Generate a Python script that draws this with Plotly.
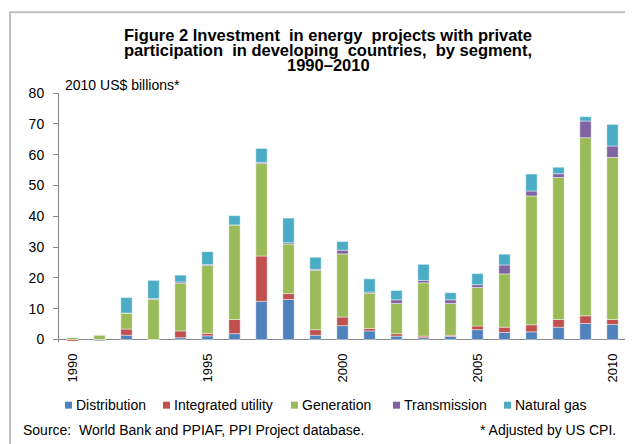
import plotly.graph_objects as go

years = list(range(1990, 2011))
distribution = [0, -0.4, 1.4, 0, 0.6, 1.2, 1.9, 12.4, 13.0, 1.4, 4.5, 2.8, 1.1, 0.6, 1.0, 3.2, 2.3, 2.5, 4.0, 5.2, 4.9]
integrated_utility = [-0.5, 0, 2.0, 0, 2.2, 0.8, 4.6, 14.7, 1.9, 1.8, 2.8, 0.8, 0.8, 0.5, 0.4, 1.2, 1.7, 2.3, 2.5, 2.5, 1.6]
generation = [0.7, 1.5, 5.2, 13.0, 15.5, 22.0, 30.7, 30.0, 16.1, 19.2, 20.5, 11.4, 9.8, 17.3, 10.3, 12.5, 17.3, 41.8, 46.1, 57.8, 52.6]
transmission = [0, 0, 0, 0.3, 0.4, 0.3, 0, 0.4, 0.4, 0.4, 1.2, 0.4, 1.2, 0.8, 1.2, 0.9, 2.9, 1.6, 1.2, 5.4, 3.7]
natural_gas = [0, 0, 5.0, 5.9, 2.2, 4.2, 3.0, 4.5, 8.0, 3.9, 2.8, 4.3, 3.0, 5.2, 2.3, 3.6, 3.5, 5.5, 2.1, 1.4, 7.0]

series_names = ["Distribution", "Integrated utility", "Generation", "Transmission", "Natural gas"]
series_values = [distribution, integrated_utility, generation, transmission, natural_gas]
colors = ["#4F81BD", "#C0504D", "#9BBB59", "#8064A2", "#4BACC6"]

x_tick_vals = [1990, 1995, 2000, 2005, 2010]
y_tick_vals = [0, 10, 20, 30, 40, 50, 60, 70, 80]

title_lines = ["Figure 2 Investment  in energy  projects with private",
               "participation  in developing  countries,  by segment,",
               "1990\u20132010"]
unit_label = "2010 US$ billions*"
source_text = "Source:  World Bank and PPIAF, PPI Project database."
note_text = "* Adjusted by US CPI."

# page body has an 8px margin, so the figure starts at (8, 8) in the window
OFF = 8
W, H = 625, 436
L = 59 - OFF
R = W - (626 - OFF)
T = 92.7 - OFF
B_px = 341.8 - OFF
plot_w = W - L - R
plot_h = B_px - T

def px(x):
    return (x - OFF - L) / plot_w

def py(y):
    return (B_px - (y - OFF)) / plot_h

FONT = "Liberation Sans, Arial, sans-serif"

fig = go.Figure()
for name, vals, col in zip(series_names, series_values, colors):
    fig.add_trace(go.Bar(x=years, y=vals, name=name, marker_color=col,
                         marker_line=dict(color="rgba(255,255,255,0.7)", width=0.6),
                         width=0.42, showlegend=False))

annotations = []
title_y = [35, 50, 65]
for line, yy in zip(title_lines, title_y):
    annotations.append(dict(text="<b>" + line + "</b>", x=px(328), y=py(yy), xref="paper", yref="paper",
                            xanchor="center", yanchor="middle", showarrow=False,
                            font=dict(family=FONT, size=16.5, color="#000000")))
annotations.append(dict(text=unit_label, x=px(63), y=py(85), xref="paper", yref="paper",
                        xanchor="left", yanchor="middle", showarrow=False,
                        font=dict(family=FONT, size=14, color="#000000")))
annotations.append(dict(text=source_text, x=px(21), y=py(430), xref="paper", yref="paper",
                        xanchor="left", yanchor="middle", showarrow=False,
                        font=dict(family=FONT, size=14, color="#000000")))
annotations.append(dict(text=note_text, x=px(618), y=py(430), xref="paper", yref="paper",
                        xanchor="right", yanchor="middle", showarrow=False,
                        font=dict(family=FONT, size=14, color="#000000")))

shapes = []
legend_marker_x = [65, 163, 291, 393, 504]
legend_y = 405
for name, col, mx in zip(series_names, colors, legend_marker_x):
    shapes.append(dict(type="rect", xref="paper", yref="paper",
                       x0=px(mx), x1=px(mx + 7), y0=py(legend_y + 3.5), y1=py(legend_y - 3.5),
                       fillcolor=col, line=dict(width=0)))
    annotations.append(dict(text=name, x=px(mx + 9), y=py(legend_y), xref="paper", yref="paper",
                            xanchor="left", yanchor="middle", showarrow=False,
                            font=dict(family=FONT, size=14, color="#000000")))

# outer frame
shapes.append(dict(type="rect", xref="paper", yref="paper",
                   x0=px(10), x1=px(700), y0=py(520), y1=py(12),
                   line=dict(color="#BFBFBF", width=2), fillcolor="rgba(0,0,0,0)"))

fig.update_layout(
    width=W, height=H,
    margin=dict(l=L, r=R, t=T, b=H - B_px),
    paper_bgcolor="white", plot_bgcolor="white",
    barmode="relative",
    annotations=annotations,
    shapes=shapes,
    font=dict(family=FONT, color="#000000"),
)
fig.update_xaxes(range=[1989.5, 2010.5], tickmode="array", tickvals=x_tick_vals,
                 ticktext=[str(v) for v in x_tick_vals], tickangle=-90,
                 showgrid=False, zeroline=False, showline=False, ticks="",
                 ticklabelstandoff=8,
                 tickfont=dict(family=FONT, size=13, color="#000000"))
fig.update_yaxes(range=[-0.8, 80], tickmode="array", tickvals=y_tick_vals,
                 showgrid=False, zeroline=True, zerolinecolor="#868686", zerolinewidth=1,
                 showline=True, linecolor="#868686", linewidth=1,
                 ticks="outside", ticklen=5, tickcolor="#868686",
                 ticklabelstandoff=6,
                 tickfont=dict(family=FONT, size=14, color="#000000"))

fig.write_html("out.html")
